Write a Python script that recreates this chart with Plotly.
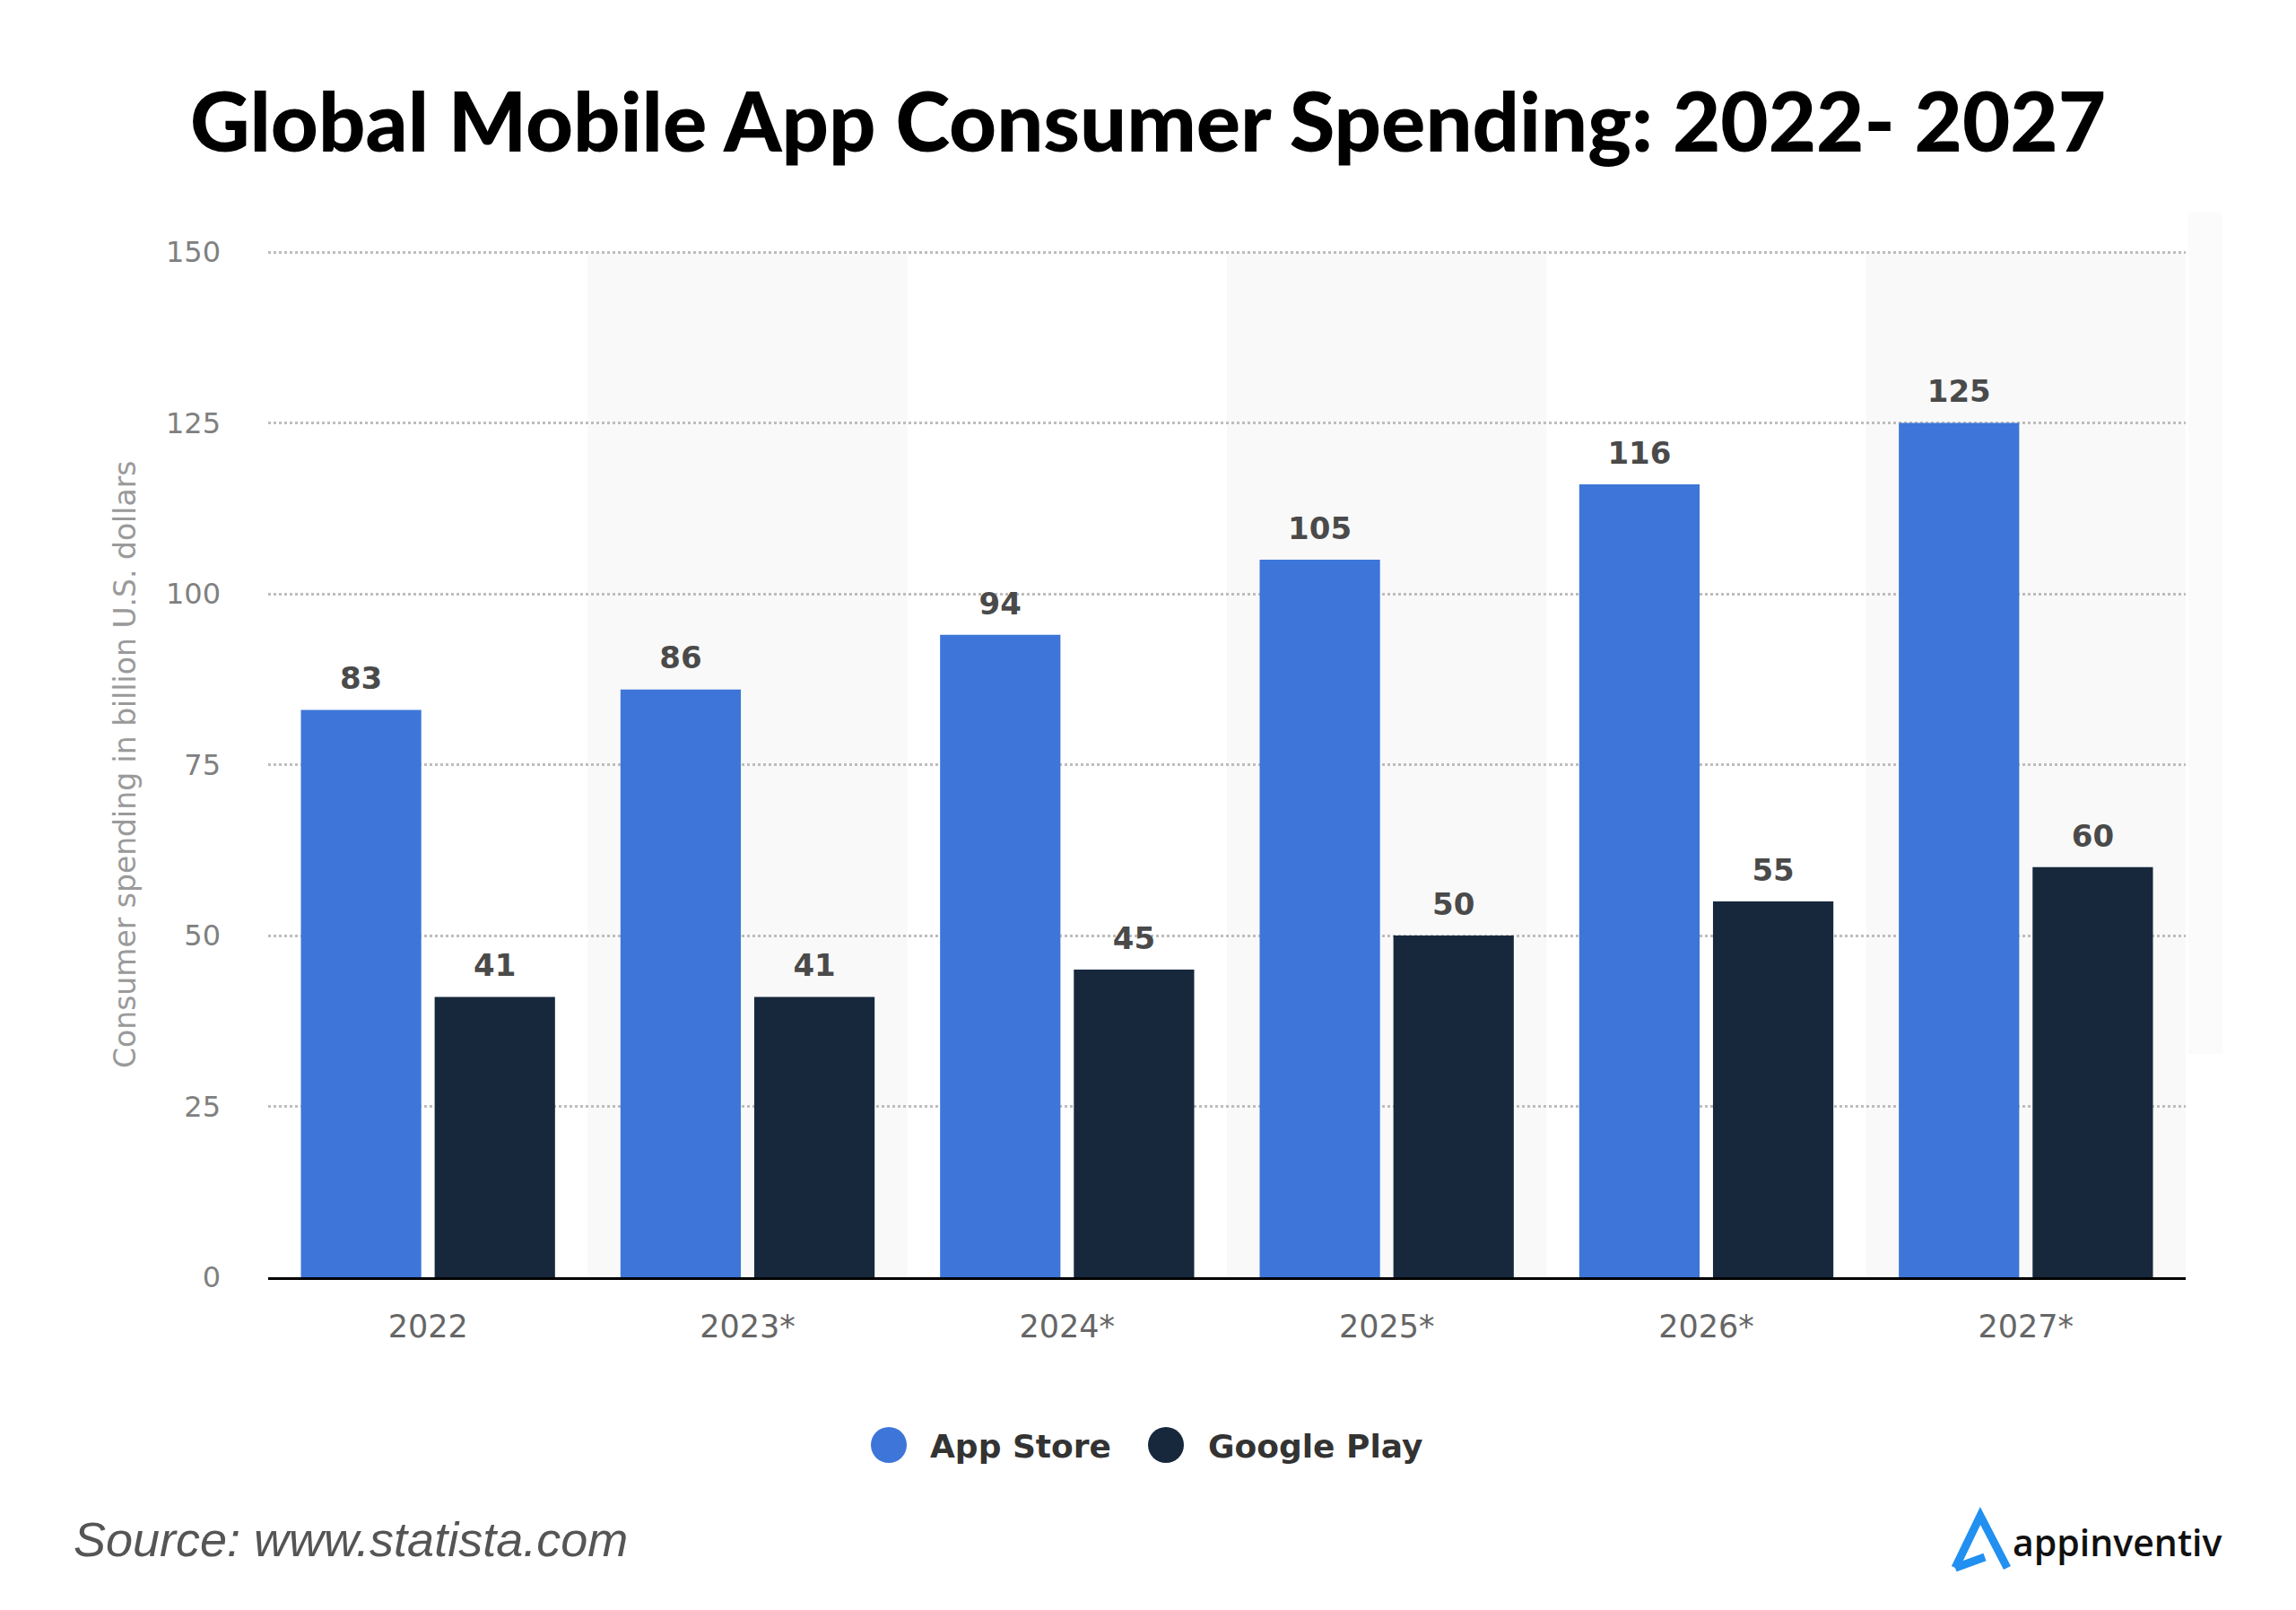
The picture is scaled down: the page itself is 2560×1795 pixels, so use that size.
import plotly.graph_objects as go

# ---- data ----
years = ["2022", "2023*", "2024*", "2025*", "2026*", "2027*"]
app_store = [83, 86, 94, 105, 116, 125]
google_play = [41, 41, 45, 50, 55, 60]
series_names = ["App Store", "Google Play"]
series_colors = ["#3d76d8", "#17283c"]
y_ticks = [0, 25, 50, 75, 100, 125, 150]
shaded_idx = [1, 3, 5]

W, H = 2560, 1795
OFF = 8  # default page body margin
L = 299 - OFF
R = W - (2437 - OFF)
B = H - (1424 - OFF)
YMAX = 150.4
PH = round(1143 * YMAX / 150)
T = H - B - PH
PW = W - L - R


def px(x):
    return (x - OFF - L) / PW


def py(y):
    return (H - B - (y - OFF)) / PH


fig = go.Figure()
for name, vals, col in zip(series_names, [app_store, google_play], series_colors):
    fig.add_trace(go.Bar(
        x=years, y=vals, name=name,
        marker=dict(color=col, line=dict(width=0)),
        showlegend=False, hoverinfo="x+y+name",
    ))
for name, vals in zip(series_names, [app_store, google_play]):
    fig.add_trace(go.Scatter(
        x=years, y=vals, name=name + " labels", mode="markers+text",
        text=[str(v) for v in vals], textposition="top center",
        marker=dict(size=22, color="rgba(0,0,0,0)"),
        textfont=dict(family="DejaVu Sans", size=34, color="#4a4a4a", weight="bold"),
        cliponaxis=False, showlegend=False, hoverinfo="skip",
    ))

shapes = []
for i in shaded_idx:
    shapes.append(dict(type="rect", xref="x", yref="y", x0=i - 0.5, x1=i + 0.5,
                       y0=0, y1=150, fillcolor="#f9f9f9", line=dict(width=0), layer="below"))
# faint band at right edge
shapes.append(dict(type="rect", xref="paper", yref="paper", x0=px(2440), x1=px(2478),
                   y0=py(1175), y1=py(237), fillcolor="#fbfbfc", line=dict(width=0), layer="below"))

annotations = []
# y axis title
annotations.append(dict(text="Consumer spending in billion U.S. dollars", xref="paper", yref="paper",
                        x=px(139), y=py(853), xanchor="center", yanchor="middle", textangle=-90,
                        showarrow=False, font=dict(family="DejaVu Sans", size=33, color="#9a9a9a")))

# manual legend
leg = [(991, 1035), (1300, 1345)]
for (cx, tx), name, col in zip(leg, series_names, series_colors):
    r = 20
    shapes.append(dict(type="circle", xref="paper", yref="paper",
                       x0=px(cx - r), x1=px(cx + r), y0=py(1611 + r), y1=py(1611 - r),
                       fillcolor=col, line=dict(width=0)))
    annotations.append(dict(text=name, xref="paper", yref="paper", x=px(tx), y=py(1612),
                            xanchor="left", yanchor="middle", showarrow=False,
                            font=dict(family="DejaVu Sans", size=36, color="#333333", weight="bold")))

# source
annotations.append(dict(text="<i>Source: www.statista.com</i>", xref="paper", yref="paper",
                        x=px(80), y=py(1716), xanchor="left", yanchor="middle", showarrow=False,
                        font=dict(family="Liberation Sans", size=54, color="#555555")))

# logo
pts = [(2180, 1748), (2208, 1690), (2238, 1748)]
path = "M {},{} L {},{} L {},{}".format(px(pts[0][0]), py(pts[0][1]), px(pts[1][0]), py(pts[1][1]),
                                        px(pts[2][0]), py(pts[2][1]))
path2 = "M {},{} L {},{}".format(px(2180), py(1748), px(2213), py(1736))
for p in (path, path2):
    shapes.append(dict(type="path", xref="paper", yref="paper", path=p,
                       line=dict(color="#2190f0", width=9)))
annotations.append(dict(text="appinventiv", xref="paper", yref="paper", x=px(2242), y=py(1719),
                        xanchor="left", yanchor="middle", showarrow=False,
                        font=dict(family="Open Sans", size=41, color="#111111", weight=600)))

fig.update_layout(
    width=W, height=H,
    margin=dict(l=L, r=R, t=T, b=B, autoexpand=False),
    paper_bgcolor="white", plot_bgcolor="rgba(0,0,0,0)",
    title=dict(text="Global Mobile App Consumer Spending: 2022- 2027",
               x=0.5 - OFF / W, xref="container", xanchor="center",
               y=1 - (137 - OFF) / H, yref="container", yanchor="middle",
               font=dict(family="Lato", size=92, color="#000000", weight=900)),
    barmode="group", bargap=0.163, bargroupgap=0.1,
    scattermode="group", scattergap=0.163,
    shapes=shapes, annotations=annotations,
    showlegend=False,
)
fig.update_xaxes(
    type="category", showgrid=False, showline=True, linecolor="#000000", linewidth=3,
    ticks="", ticklabelstandoff=22,
    tickfont=dict(family="DejaVu Sans", size=35, color="#666666"),
)
fig.update_yaxes(
    range=[0, YMAX], tickvals=y_ticks, showgrid=True, gridcolor="#bdbdbd", gridwidth=2.5,
    griddash="dot", zeroline=False, showline=False, ticks="", ticklabelstandoff=52,
    tickfont=dict(family="DejaVu Sans", size=32, color="#808080"),
)

fig.write_html("out.html")
